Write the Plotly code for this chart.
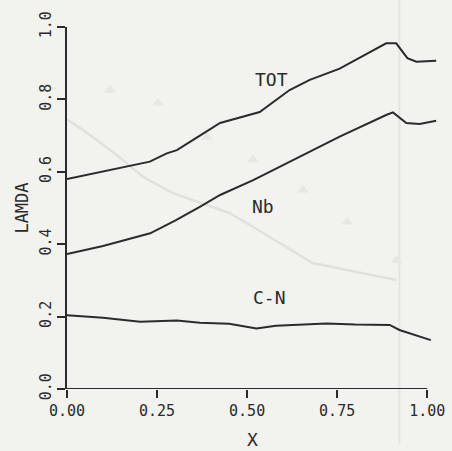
import plotly.graph_objects as go

# ---- data ----
tot_x = [0.0, 0.10, 0.23, 0.277, 0.305, 0.369, 0.425, 0.535, 0.618, 0.674, 0.757, 0.886, 0.914, 0.945, 0.97, 1.025]
tot_y = [0.58, 0.60, 0.628, 0.651, 0.66, 0.70, 0.735, 0.765, 0.826, 0.854, 0.885, 0.955, 0.955, 0.914, 0.904, 0.907]

nb_x = [0.0, 0.10, 0.231, 0.30, 0.37, 0.425, 0.517, 0.646, 0.757, 0.886, 0.905, 0.942, 0.979, 1.025]
nb_y = [0.373, 0.395, 0.43, 0.465, 0.504, 0.536, 0.577, 0.642, 0.697, 0.757, 0.764, 0.735, 0.732, 0.741]

cn_x = [0.0, 0.10, 0.203, 0.305, 0.369, 0.45, 0.526, 0.58, 0.627, 0.72, 0.80, 0.896, 0.923, 1.01]
cn_y = [0.204, 0.197, 0.186, 0.189, 0.183, 0.18, 0.167, 0.175, 0.177, 0.181, 0.178, 0.177, 0.163, 0.135]

# faint show-through from the reverse side of the scanned page
ghost_x = [0.0, 0.056, 0.139, 0.211, 0.294, 0.452, 0.508, 0.591, 0.682, 0.821, 0.915]
ghost_y = [0.745, 0.707, 0.646, 0.586, 0.541, 0.486, 0.453, 0.403, 0.348, 0.320, 0.301]
ghost_tri_x = [0.12, 0.253, 0.389, 0.516, 0.655, 0.779, 0.915]
ghost_tri_y = [0.826, 0.79, 0.696, 0.633, 0.55, 0.461, 0.356]

x_ticks = [0.0, 0.25, 0.5, 0.75, 1.0]
x_ticktext = ["0.00", "0.25", "0.50", "0.75", "1.00"]
y_ticks = [0.0, 0.2, 0.4, 0.6, 0.8, 1.0]
y_ticktext = ["0.0", "0.2", "0.4", "0.6", "0.8", "1.0"]

labels = ["TOT", "Nb", "C-N"]
label_x = [0.569, 0.545, 0.561]
label_y = [0.856, 0.503, 0.254]

# ---- style ----
INK = "#2b2b2b"
PAPER = "#f2f2ee"
GHOST = "#e0e0dc"
FONT = "DejaVu Sans Mono"

fig = go.Figure()
fig.add_trace(go.Scatter(x=ghost_x, y=ghost_y, mode="lines",
                         line=dict(color=GHOST, width=2.5), hoverinfo="skip"))
fig.add_trace(go.Scatter(x=ghost_tri_x, y=ghost_tri_y, mode="markers",
                         marker=dict(symbol="triangle-up", size=10, color="#e6e6e2"), hoverinfo="skip"))
for xs, ys in [(tot_x, tot_y), (nb_x, nb_y), (cn_x, cn_y)]:
    fig.add_trace(go.Scatter(x=xs, y=ys, mode="lines",
                             line=dict(color=INK, width=2)))

for t, lx, ly in zip(labels, label_x, label_y):
    fig.add_annotation(x=lx, y=ly, text=t, showarrow=False,
                       font=dict(family=FONT, size=18, color=INK))

# x axis line (only from 0 to 1)
fig.add_shape(type="line", xref="x", yref="y", x0=0, x1=1, y0=0, y1=0,
              line=dict(color=INK, width=2))
# paper fold
fig.add_shape(type="line", xref="x", yref="paper", x0=0.923, x1=0.923, y0=-0.15, y1=1.08,
              line=dict(color="#e4e4e0", width=2), layer="below")

fig.update_layout(
    width=452, height=451,
    margin=dict(l=67, r=14, t=27, b=62),
    paper_bgcolor=PAPER, plot_bgcolor=PAPER,
    showlegend=False,
    font=dict(family=FONT, size=15, color=INK),
    xaxis=dict(range=[0, 1.03], tickvals=x_ticks, ticktext=x_ticktext,
               ticks="outside", ticklen=8, tickwidth=2, tickcolor=INK,
               showgrid=False, zeroline=False, showline=False, automargin=False,
               title=dict(text="X", font=dict(size=18), standoff=14)),
    yaxis=dict(range=[0, 1.0], tickvals=y_ticks, ticktext=y_ticktext,
               ticks="outside", ticklen=8, tickwidth=2, tickcolor=INK,
               tickangle=-90, automargin=False,
               showgrid=False, zeroline=False, showline=True, linecolor=INK, linewidth=2,
               title=dict(text="LAMDA", font=dict(size=17), standoff=4)),
)

fig.write_html("out.html")
